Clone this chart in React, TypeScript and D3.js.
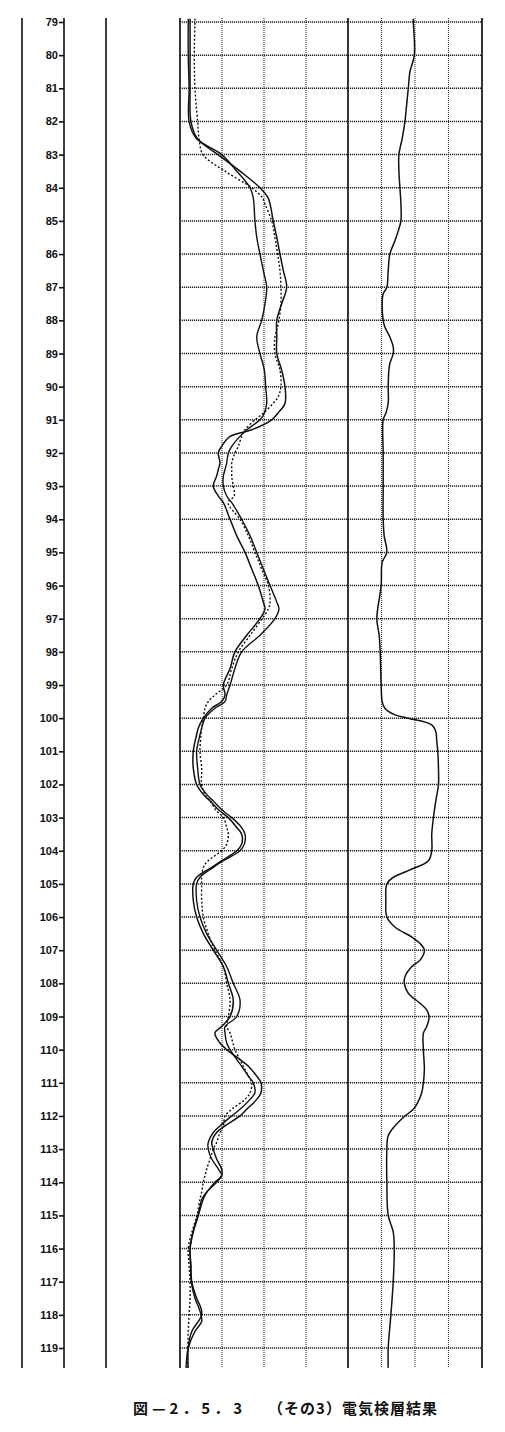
import React, { useEffect, useRef } from "react";
import * as d3 from "d3";

// depth ticks (m)
const depthTicks = d3.range(79, 120);

// resistivity (ohm-m), 3 curves: [depth, value]
const resLong: [number, number][] = [
  [78.9, 6.0], [79, 6.0], [80, 6.0], [81, 6.0], [82, 6.5], [82.5, 10.1], [83, 22.6], [83.5, 35.7],
  [84, 47.6], [84.3, 52.4], [85, 55.5], [85.5, 57.6], [86, 59.5], [86.5, 61.5], [87, 63.5],
  [87.5, 60.5], [88, 57.6], [88.5, 57.6], [89, 57.6], [89.5, 60.5], [90, 62.5], [90.5, 62.5],
  [90.8, 58.3], [91, 54.6], [91.3, 42.7], [91.5, 29.8], [91.8, 24.8], [92, 22.8], [92.3, 23.8],
  [92.5, 22.8], [92.7, 21.8], [93, 19.8], [93.3, 22.8], [93.5, 25.8], [94, 29.8], [94.5, 33.8],
  [95, 38.7], [95.5, 42.7], [96, 46.6], [96.5, 49.6], [96.7, 50.6], [97, 47.6], [97.5, 39.7],
  [98, 32.7], [98.5, 29.8], [99, 25.8], [99.3, 26.8], [99.5, 24.8], [99.7, 18.9], [100, 13.9],
  [100.3, 10.9], [100.5, 9.9], [101, 7.9], [101.5, 7.9], [102, 9.9], [102.3, 13.9], [102.5, 17.9],
  [102.8, 23.8], [103, 28.8], [103.3, 33.8], [103.5, 36.7], [103.8, 36.7], [104, 33.8],
  [104.3, 24.8], [104.5, 18.9], [104.8, 9.9], [105, 7.9], [105.5, 7.9], [106, 9.9], [106.5, 13.9],
  [107, 19.8], [107.5, 25.8], [108, 28.8], [108.5, 31.7], [109, 29.8], [109.3, 24.8], [109.5, 20.8],
  [109.8, 23.8], [110, 27.8], [110.3, 35.7], [110.5, 40.7], [110.8, 45.7], [111, 48.2], [111.3, 48.2],
  [111.5, 45.7], [111.8, 39.7], [112, 35.7], [112.3, 26.8], [112.5, 21.8], [112.8, 18.9], [113, 19.8],
  [113.3, 21.8], [113.6, 24.8], [113.8, 24.8], [114, 21.8], [114.3, 15.9], [114.5, 13.9], [115, 10.9],
  [115.5, 7.9], [116, 6.0], [116.5, 6.5], [117, 7.0], [117.5, 9.9], [117.8, 12.5], [118, 12.9],
  [118.2, 10.9], [118.5, 7.0], [119, 4.9], [119.6, 4.9],
];

const resShort: [number, number][] = [
  [78.9, 4.9], [79, 4.9], [80, 4.9], [81, 5.4], [82, 5.4], [82.5, 9.5], [83, 24.8], [83.5, 33.8],
  [84, 41.7], [84.3, 43.6], [85, 44.6], [85.5, 45.7], [86, 47.6], [86.5, 49.6], [87, 51.6],
  [87.5, 50.6], [88, 48.6], [88.5, 45.7], [89, 47.6], [89.5, 50.2], [90, 51.0], [90.5, 51.6],
  [90.8, 50.2], [91, 47.6], [91.3, 39.7], [91.5, 35.7], [91.8, 30.8], [92, 28.8], [92.3, 27.8],
  [92.5, 26.8], [92.7, 25.8], [93, 25.8], [93.3, 27.8], [93.5, 30.8], [94, 36.7], [94.5, 41.7],
  [95, 45.7], [95.5, 49.6], [96, 53.6], [96.5, 57.6], [96.7, 58.9], [97, 56.5], [97.5, 47.6],
  [98, 36.7], [98.5, 32.7], [99, 29.8], [99.3, 27.8], [99.5, 26.8], [99.7, 20.8], [100, 14.9],
  [100.3, 12.9], [100.5, 11.9], [101, 9.9], [101.5, 10.5], [102, 11.9], [102.3, 15.9], [102.5, 19.8],
  [102.8, 25.8], [103, 30.8], [103.3, 36.7], [103.5, 38.7], [103.8, 38.3], [104, 35.7],
  [104.3, 25.8], [104.5, 19.8], [104.8, 11.9], [105, 9.9], [105.5, 9.9], [106, 11.9], [106.5, 15.9],
  [107, 21.8], [107.5, 27.8], [108, 31.7], [108.5, 35.7], [109, 33.8], [109.3, 26.8], [109.5, 26.8],
  [109.8, 27.8], [110, 29.8], [110.3, 33.8], [110.5, 36.7], [110.8, 40.7], [111, 43.6], [111.3, 44.6],
  [111.5, 41.7], [111.8, 35.7], [112, 30.8], [112.3, 23.8], [112.5, 19.8], [112.8, 16.8], [113, 16.8],
  [113.3, 18.9], [113.6, 22.8], [113.8, 24.8], [114, 20.8], [114.3, 15.9], [114.5, 13.1], [115, 10.7],
  [115.5, 7.7], [116, 6.0], [116.5, 6.3], [117, 6.7], [117.5, 8.9], [117.8, 11.3], [118, 12.5],
  [118.2, 12.9], [118.5, 8.9], [119, 4.9], [119.6, 3.6],
];

const resMicro: [number, number][] = [
  [78.9, 8.9], [79, 8.9], [80, 8.5], [81, 8.9], [82, 10.5], [82.5, 11.3], [83, 13.7], [83.5, 26.8],
  [84, 42.7], [84.3, 49.0], [84.5, 50.6], [85, 54.6], [85.5, 56.5], [86, 58.1], [86.5, 59.5],
  [87, 60.1], [87.5, 60.1], [88, 58.9], [88.3, 57.6], [88.5, 56.5], [89, 56.5], [89.5, 59.5],
  [90, 60.1], [90.3, 58.5], [90.5, 55.5], [90.8, 49.6], [91, 44.6], [91.3, 38.7], [91.5, 36.7],
  [91.8, 34.7], [92, 32.7], [92.3, 30.8], [92.5, 30.8], [92.7, 30.8], [93, 31.7], [93.3, 32.3],
  [93.5, 28.6], [94, 35.7], [94.5, 40.7], [95, 44.6], [95.5, 48.6], [96, 52.6], [96.5, 53.6],
  [96.7, 52.6], [97, 48.9], [97.5, 41.7], [98, 34.7], [98.5, 30.8], [99, 27.8], [99.3, 20.8],
  [99.5, 16.8], [99.7, 14.9], [100, 13.9], [100.3, 12.9], [100.5, 12.5], [101, 11.9], [101.5, 12.9],
  [102, 12.9], [102.3, 14.9], [102.5, 17.9], [102.8, 21.8], [103, 25.8], [103.3, 27.8], [103.5, 28.8],
  [103.8, 27.8], [104, 24.8], [104.3, 16.8], [104.5, 13.9], [104.8, 12.9], [105, 12.9], [105.5, 12.9],
  [106, 13.9], [106.5, 16.8], [107, 20.8], [107.5, 25.8], [108, 27.8], [108.5, 29.8], [109, 28.8],
  [109.3, 27.8], [109.5, 29.8], [109.8, 31.5], [110, 32.7], [110.3, 35.7], [110.5, 37.7], [110.8, 40.7],
  [111, 42.7], [111.3, 41.7], [111.5, 38.7], [111.8, 30.8], [112, 26.8], [112.3, 25.8], [112.5, 23.8],
  [112.8, 21.8], [113, 19.8], [113.3, 17.9], [113.6, 15.9], [113.8, 14.9], [114, 13.9], [114.3, 12.9],
  [114.5, 11.9], [115, 10.1], [115.5, 7.1], [116, 4.9], [116.5, 5.4], [117, 6.0], [117.5, 6.0],
  [118, 5.4], [118.5, 4.9], [119, 4.6], [119.6, 4.2],
];

// spontaneous potential (mV)
const spCurve: [number, number][] = [
  [78.9, 19.5], [79, 19.5], [80, 19.8], [80.5, 18.5], [81, 18.0], [81.5, 17.5], [82, 17.0], [82.5, 16.2],
  [83, 15.2], [83.5, 15.2], [84, 15.5], [84.5, 15.8], [85, 15.8], [85.3, 15.0], [85.6, 14.0], [86, 12.5],
  [86.5, 12.0], [87, 11.6], [87.2, 10.5], [87.5, 10.2], [88, 10.5], [88.2, 11.0], [88.5, 12.5],
  [88.8, 13.5], [89, 13.5], [89.3, 12.5], [89.5, 12.2], [90, 12.0], [90.5, 12.0], [90.8, 11.3],
  [91, 10.5], [92, 10.5], [93, 10.5], [94, 10.5], [94.5, 10.8], [95, 11.6], [95.3, 10.2], [96, 9.9],
  [97, 8.6], [97.5, 9.3], [98, 9.6], [99, 9.9], [99.5, 10.2], [99.7, 11.0], [99.9, 14.0], [100, 18.0],
  [100.2, 25.0], [100.4, 26.2], [100.7, 26.5], [101, 26.8], [101.5, 27.0], [102, 27.0], [102.5, 26.2],
  [103, 25.5], [103.5, 25.0], [104, 25.0], [104.3, 24.0], [104.6, 18.0], [104.8, 13.5], [105, 11.6],
  [105.5, 11.3], [106, 11.6], [106.3, 14.0], [106.6, 19.0], [106.8, 21.5], [107, 22.8], [107.3, 21.5],
  [107.5, 19.0], [107.8, 17.0], [108, 16.8], [108.3, 18.0], [108.6, 21.5], [108.8, 23.5], [109, 24.2],
  [109.3, 23.5], [109.5, 22.5], [110, 22.5], [110.6, 22.8], [111, 22.5], [111.3, 22.0], [111.6, 20.8],
  [111.8, 19.5], [112, 17.0], [112.3, 14.0], [112.6, 12.0], [113, 11.6], [114, 11.6], [115, 12.0],
  [115.5, 13.5], [116, 13.8], [117, 13.5], [118, 12.8], [119, 12.0], [119.6, 12.0],
];

const resGrid = [0, 25, 50, 75, 100];
const spGrid = [0, 10, 20, 30, 40];

const caption1 = "図—2．5．3";
const caption2 = "（その3）電気検層結果";

const W = 505;
const H = 1432;

const App = () => {
  const svgRef = useRef<SVGSVGElement>(null);

  useEffect(() => {
    const svg = d3.select(svgRef.current);
    svg.selectAll("*").remove();

    const y = d3.scaleLinear().domain([79, 119]).range([22, 1348]);
    const frameTop = 18;
    const frameBottom = 1368;
    const xRes = d3.scaleLinear().domain([0, 100]).range([180, 348]);
    const xSp = d3.scaleLinear().domain([0, 40]).range([348, 482]);

    svg.append("rect").attr("width", W).attr("height", H).attr("fill", "#fff");

    // left columns
    [22, 64, 106].forEach((x) => {
      svg.append("line")
        .attr("x1", x).attr("x2", x)
        .attr("y1", frameTop).attr("y2", frameBottom)
        .attr("stroke", "#111").attr("stroke-width", 1.6);
    });

    // depth axis
    const axis = svg.append("g").attr("transform", "translate(64,0)")
      .call(d3.axisLeft(y).tickValues(depthTicks).tickSize(5).tickPadding(1).tickFormat(d3.format("d")));
    axis.select(".domain").remove();
    axis.selectAll("line").attr("stroke", "#111").attr("stroke-width", 1.6);
    axis.selectAll("text")
      .attr("fill", "#111")
      .style("font-family", "'Liberation Sans', Arial, sans-serif")
      .style("font-weight", "bold")
      .style("font-size", "11px");

    // horizontal grid
    svg.append("g").selectAll("line").data(depthTicks).enter().append("line")
      .attr("x1", xRes(0)).attr("x2", xSp(40))
      .attr("y1", (d) => y(d)).attr("y2", (d) => y(d))
      .attr("stroke", "#222").attr("stroke-width", 1.5).attr("stroke-dasharray", "1.2,0.8");

    // vertical grid (dotted)
    const minor = [...resGrid.slice(1, -1).map((v) => xRes(v)), ...spGrid.slice(1, -1).map((v) => xSp(v))];
    svg.append("g").selectAll("line").data(minor).enter().append("line")
      .attr("x1", (d) => d).attr("x2", (d) => d)
      .attr("y1", frameTop).attr("y2", frameBottom)
      .attr("stroke", "#333").attr("stroke-width", 1.1).attr("stroke-dasharray", "1,1");

    // track borders
    [xRes(0), xRes(100), xSp(40)].forEach((x) => {
      svg.append("line")
        .attr("x1", x).attr("x2", x)
        .attr("y1", frameTop).attr("y2", frameBottom)
        .attr("stroke", "#111").attr("stroke-width", 1.7);
    });

    const resLine = d3.line<[number, number]>()
      .x((d) => xRes(d[1])).y((d) => y(d[0]))
      .curve(d3.curveCatmullRom.alpha(0.5));
    const spLine = d3.line<[number, number]>()
      .x((d) => xSp(d[1])).y((d) => y(d[0]))
      .curve(d3.curveCatmullRom.alpha(0.5));

    svg.append("path").attr("d", resLine(resLong))
      .attr("fill", "none").attr("stroke", "#111").attr("stroke-width", 1.5);
    svg.append("path").attr("d", resLine(resShort))
      .attr("fill", "none").attr("stroke", "#111").attr("stroke-width", 1.4);
    svg.append("path").attr("d", resLine(resMicro))
      .attr("fill", "none").attr("stroke", "#111").attr("stroke-width", 1.4)
      .attr("stroke-dasharray", "2,2");
    svg.append("path").attr("d", spLine(spCurve))
      .attr("fill", "none").attr("stroke", "#111").attr("stroke-width", 1.5);

    // caption
    const cap = svg.append("g")
      .style("font-family", "'Noto Sans CJK JP', sans-serif")
      .style("font-weight", "bold")
      .style("font-size", "15px")
      .attr("fill", "#111");
    cap.append("text").attr("x", 133).attr("y", 1414)
      .attr("textLength", 109).attr("lengthAdjust", "spacing").text(caption1);
    cap.append("text").attr("x", 268).attr("y", 1414)
      .attr("textLength", 169).attr("lengthAdjust", "spacing").text(caption2);
  }, []);

  return (
    <svg
      ref={svgRef}
      width={W}
      height={H}
      style={{ position: "absolute", left: 0, top: 0 }}
    ></svg>
  );
};

export default App;
